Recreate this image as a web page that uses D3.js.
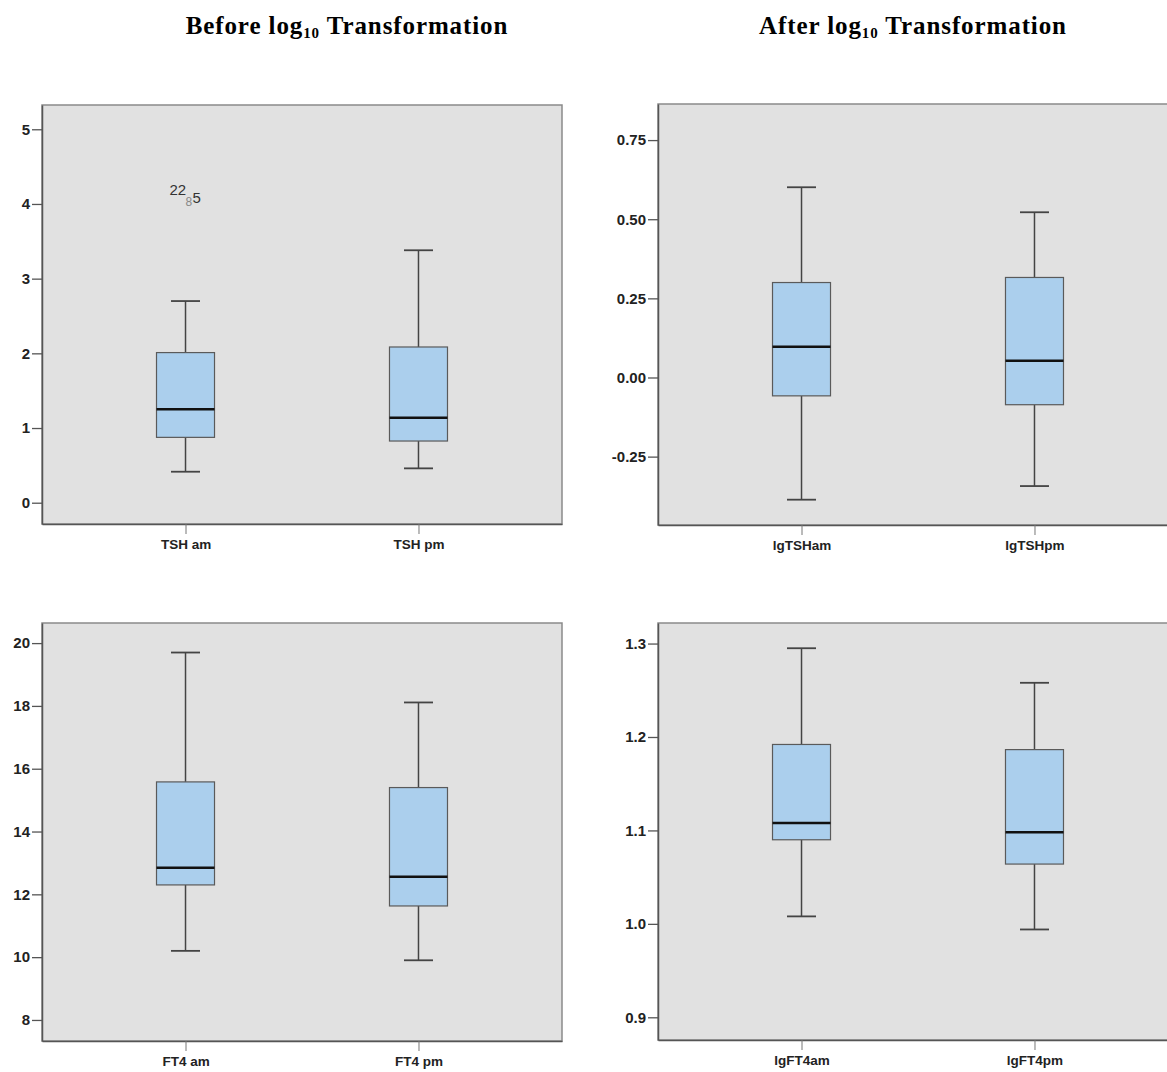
<!DOCTYPE html>
<html>
<head>
<meta charset="utf-8">
<script src="https://cdn.jsdelivr.net/npm/d3@7"></script>
<style>
  body { margin: 0; background: #fff; }
  svg { display: block; }
</style>
</head>
<body>
<div id="chart"></div>
<script>
'use strict';

// titles of the two columns
const colTitles = ["Before", "After"];

// categories per panel
const catTSH   = ["TSH am", "TSH pm"];
const catLgTSH = ["lgTSHam", "lgTSHpm"];
const catFT4   = ["FT4 am", "FT4 pm"];
const catLgFT4 = ["lgFT4am", "lgFT4pm"];

// five number summaries: [lower whisker, Q1, median, Q3, upper whisker]
const statsTSH   = [[0.415, 0.875, 1.25, 2.01, 2.70], [0.46, 0.826, 1.138, 2.085, 3.38]];
const statsLgTSH = [[-0.386, -0.058, 0.097, 0.300, 0.601], [-0.343, -0.086, 0.053, 0.316, 0.522]];
const statsFT4   = [[10.20, 12.30, 12.85, 15.58, 19.70], [9.90, 11.63, 12.56, 15.40, 18.11]];
const statsLgFT4 = [[1.008, 1.090, 1.108, 1.192, 1.295], [0.994, 1.064, 1.098, 1.1865, 1.258]];

// outlier case labels (TSH am)
const outTSH = [{ id: "22", v: 4.19, cat: "TSH am" }, { id: "8", v: 4.02, cat: "TSH am" }, { id: "5", v: 4.08, cat: "TSH am" }];

// tick values
const ticksTSH   = [0, 1, 2, 3, 4, 5];
const ticksLgTSH = [-0.25, 0, 0.25, 0.5, 0.75];
const ticksFT4   = [8, 10, 12, 14, 16, 18, 20];
const ticksLgFT4 = [0.9, 1.0, 1.1, 1.2, 1.3];

const W = 1167, H = 1072;

const svg = d3.select("#chart").append("svg")
  .attr("width", W)
  .attr("height", H);

// column titles
const titleX = [347, 913];
colTitles.forEach((t, i) => {
  const txt = svg.append("text")
    .attr("x", titleX[i])
    .attr("y", 34)
    .attr("text-anchor", "middle")
    .attr("font-family", "Liberation Serif, Times New Roman, serif")
    .attr("font-weight", "bold")
    .attr("font-size", 25)
    .attr("letter-spacing", 0.9)
    .attr("fill", "#000");
  txt.append("tspan").text(t + " log");
  txt.append("tspan").attr("font-size", 15).attr("dy", 4).text("10");
  txt.append("tspan").attr("dy", -4).text(" Transformation");
});

// hyphen instead of unicode minus, as in the original
const hy = f => v => f(v).replace("\u2212", "-");

const panels = [
  { x0: 42,  x1: 562,  y0: 105, y1: 524,  dom: [-0.285, 5.325], cats: catTSH,   stats: statsTSH,   ticks: ticksTSH,   fmt: hy(d3.format("d")),   outliers: outTSH },
  { x0: 658, x1: 1178, y0: 104, y1: 525,  dom: [-0.466, 0.864], cats: catLgTSH, stats: statsLgTSH, ticks: ticksLgTSH, fmt: hy(d3.format(".2f")), outliers: [] },
  { x0: 42,  x1: 562,  y0: 623, y1: 1041, dom: [7.33, 20.64],   cats: catFT4,   stats: statsFT4,   ticks: ticksFT4,   fmt: hy(d3.format("d")),   outliers: [] },
  { x0: 658, x1: 1178, y0: 623, y1: 1040, dom: [0.8757, 1.322], cats: catLgFT4, stats: statsLgFT4, ticks: ticksLgFT4, fmt: hy(d3.format(".1f")), outliers: [] }
];

const boxW = 58, capW = 29;

panels.forEach(p => {
  const g = svg.append("g");

  const x = d3.scalePoint()
    .domain(p.cats)
    .range([p.x0, p.x1])
    .padding(0.616);

  const y = d3.scaleLinear()
    .domain(p.dom)
    .range([p.y1, p.y0]);

  // plot background
  g.append("rect")
    .attr("x", p.x0).attr("y", p.y0)
    .attr("width", p.x1 - p.x0).attr("height", p.y1 - p.y0)
    .attr("fill", "#e1e1e1")
    .attr("stroke", "#8a8a8a")
    .attr("stroke-width", 1.5);

  // y axis
  const yAxis = g.append("g")
    .attr("transform", `translate(${p.x0},0)`)
    .call(d3.axisLeft(y).tickValues(p.ticks).tickFormat(p.fmt).tickSize(10).tickSizeOuter(0).tickPadding(2));
  yAxis.select(".domain").attr("stroke", "#555").attr("stroke-width", 1.5);
  yAxis.selectAll(".tick line").attr("stroke", "#555").attr("stroke-width", 1.3);
  yAxis.selectAll(".tick text")
    .attr("font-family", "Liberation Sans, Arial, sans-serif")
    .attr("font-weight", "bold")
    .attr("font-size", 15)
    .attr("fill", "#222");

  // x axis
  const xAxis = g.append("g")
    .attr("transform", `translate(0,${p.y1})`)
    .call(d3.axisBottom(x).tickSize(10).tickSizeOuter(0).tickPadding(5));
  xAxis.select(".domain").attr("stroke", "#555").attr("stroke-width", 1.5);
  xAxis.selectAll(".tick line").attr("stroke", "#777").attr("stroke-width", 1);
  xAxis.selectAll(".tick text")
    .attr("font-family", "Liberation Sans, Arial, sans-serif")
    .attr("font-weight", "bold")
    .attr("font-size", 13.5)
    .attr("fill", "#222");

  // boxes
  const box = g.selectAll("g.box")
    .data(p.stats.map((s, i) => ({ cat: p.cats[i], s: s })))
    .join("g")
    .attr("class", "box");

  // whiskers
  box.append("line")
    .attr("x1", d => x(d.cat)).attr("x2", d => x(d.cat))
    .attr("y1", d => y(d.s[0])).attr("y2", d => y(d.s[1]))
    .attr("stroke", "#444").attr("stroke-width", 1.5);
  box.append("line")
    .attr("x1", d => x(d.cat)).attr("x2", d => x(d.cat))
    .attr("y1", d => y(d.s[3])).attr("y2", d => y(d.s[4]))
    .attr("stroke", "#444").attr("stroke-width", 1.5);
  // caps
  [0, 4].forEach(k => {
    box.append("line")
      .attr("x1", d => x(d.cat) - capW / 2).attr("x2", d => x(d.cat) + capW / 2)
      .attr("y1", d => y(d.s[k])).attr("y2", d => y(d.s[k]))
      .attr("stroke", "#444").attr("stroke-width", 1.8);
  });
  // box body
  box.append("rect")
    .attr("x", d => x(d.cat) - boxW / 2)
    .attr("y", d => y(d.s[3]))
    .attr("width", boxW)
    .attr("height", d => y(d.s[1]) - y(d.s[3]))
    .attr("fill", "#abcfed")
    .attr("stroke", "#5a5a5a")
    .attr("stroke-width", 1.2);
  // median
  box.append("line")
    .attr("x1", d => x(d.cat) - boxW / 2).attr("x2", d => x(d.cat) + boxW / 2)
    .attr("y1", d => y(d.s[2])).attr("y2", d => y(d.s[2]))
    .attr("stroke", "#111").attr("stroke-width", 2.5);

  // outlier labels
  const dxs = { "22": -16, "8": 0, "5": 7 };
  g.selectAll("text.out")
    .data(p.outliers)
    .join("text")
    .attr("class", "out")
    .attr("x", d => x(d.cat) + dxs[d.id])
    .attr("y", d => y(d.v))
    .attr("dominant-baseline", "central")
    .attr("font-family", "Liberation Sans, Arial, sans-serif")
    .attr("font-size", d => d.id === "8" ? 12 : 15)
    .attr("fill", d => d.id === "8" ? "#888" : "#333")
    .text(d => d.id);
});
</script>
</body>
</html>
